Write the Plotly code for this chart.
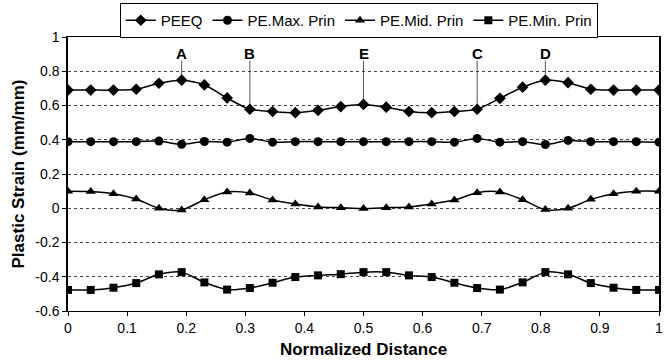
import plotly.graph_objects as go

n_points = 27
x_vals = [i / 26 for i in range(n_points)]

peeq = [0.69, 0.69, 0.69, 0.695, 0.73, 0.748, 0.72, 0.644, 0.578, 0.565, 0.558, 0.572, 0.594, 0.606,
        0.59, 0.565, 0.558, 0.565, 0.578, 0.642, 0.707, 0.748, 0.733, 0.695, 0.69, 0.69, 0.69]
pe_max = [0.389, 0.389, 0.389, 0.389, 0.392, 0.373, 0.39, 0.386, 0.408, 0.386, 0.389, 0.389, 0.389, 0.389,
          0.389, 0.389, 0.389, 0.386, 0.408, 0.386, 0.389, 0.372, 0.396, 0.389, 0.389, 0.389, 0.386]
pe_mid = [0.1, 0.098, 0.085, 0.054, 0.0, -0.01, 0.05, 0.095, 0.089, 0.048, 0.025, 0.008, 0.003, -0.002,
          0.003, 0.008, 0.025, 0.048, 0.091, 0.095, 0.05, -0.008, 0.0, 0.052, 0.085, 0.1, 0.1]
pe_min = [-0.477, -0.477, -0.464, -0.437, -0.386, -0.373, -0.433, -0.475, -0.466, -0.435, -0.402, -0.392, -0.385, -0.373,
          -0.373, -0.392, -0.402, -0.435, -0.466, -0.475, -0.433, -0.373, -0.386, -0.437, -0.464, -0.477, -0.477]

series_names = ["PEEQ", "PE.Max. Prin", "PE.Mid. Prin", "PE.Min. Prin"]
symbols = ["diamond", "circle", "triangle-up", "square"]
sizes = [9, 9, 9, 8]

label_idx = [5, 8, 13, 18, 21]
label_txt = ["A", "B", "E", "C", "D"]
label_line_top = 0.862
label_text_y = 0.905

y_ticks = [1, 0.8, 0.6, 0.4, 0.2, 0, -0.2, -0.4, -0.6]
x_ticks = [0, 0.1, 0.2, 0.3, 0.4, 0.5, 0.6, 0.7, 0.8, 0.9, 1]

FONT = "Liberation Sans, Arial, sans-serif"

fig = go.Figure()
for name, ys, sym, sz in zip(series_names, [peeq, pe_max, pe_mid, pe_min], symbols, sizes):
    fig.add_trace(go.Scatter(
        x=x_vals, y=ys, name=name, mode="lines+markers",
        line=dict(color="black", width=1.5, shape="spline", smoothing=0.8),
        marker=dict(symbol=sym, size=sz, color="black"),
    ))

for idx, t in zip(label_idx, label_txt):
    fig.add_shape(type="line", xref="x", yref="y",
                  x0=x_vals[idx], x1=x_vals[idx], y0=label_line_top, y1=peeq[idx],
                  line=dict(color="#555555", width=1), layer="below")
    fig.add_annotation(x=x_vals[idx], y=label_text_y, text="<b>" + t + "</b>", showarrow=False,
                       font=dict(family=FONT, size=15, color="black"))

fig.update_layout(
    width=670, height=363,
    margin=dict(l=68, r=11, t=37, b=52, autoexpand=False),
    paper_bgcolor="white", plot_bgcolor="white",
    font=dict(family=FONT, size=14, color="black"),
    showlegend=True,
    legend=dict(orientation="h", x=0.492, xanchor="center", y=1.124, yanchor="top",
                bordercolor="black", borderwidth=1, font=dict(family=FONT, size=15),
                itemwidth=30, tracegroupgap=0),
)
fig.update_xaxes(range=[0, 1], tickvals=x_ticks, ticktext=[f"{v:g}" for v in x_ticks],
                 showgrid=False, zeroline=False, showline=True, linecolor="black", linewidth=1,
                 mirror=True, ticks="outside", ticklen=4, tickcolor="black",
                 title=dict(text="<b>Normalized Distance</b>", font=dict(family=FONT, size=17), standoff=8))
fig.update_yaxes(range=[-0.6, 1], tickvals=y_ticks, ticktext=[f"{v:g}" for v in y_ticks],
                 showgrid=True, gridcolor="#444444", griddash="dot", gridwidth=1,
                 zeroline=False, showline=True, linecolor="black", linewidth=1.5,
                 mirror=True, ticks="outside", ticklen=4, tickcolor="black",
                 title=dict(text="<b>Plastic Strain (mm/mm)</b>", font=dict(family=FONT, size=17), standoff=6))

fig.write_html("out.html")
